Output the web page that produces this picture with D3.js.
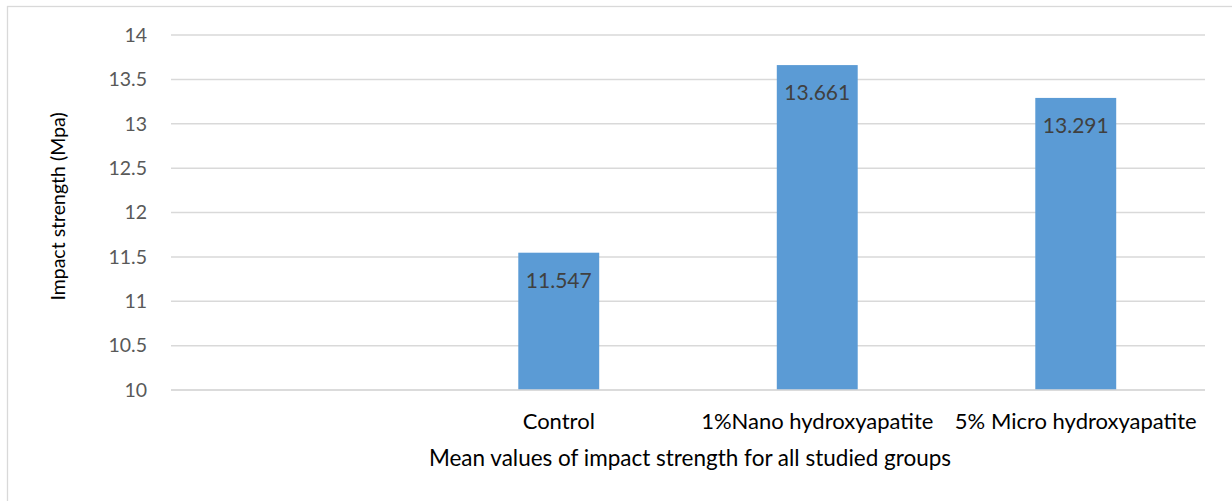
<!DOCTYPE html>
<html>
<head>
<meta charset="utf-8">
<title>Impact strength</title>
<script src="https://d3js.org/d3.v7.min.js"></script>
<style>
  body { margin: 0; background: #fff; }
  text { font-family: Lato, "Open Sans", sans-serif; }
</style>
</head>
<body>
<div id="chart"></div>
<script>
// data
var groups = ["", "Control", "1%Nano hydroxyapatite", "5% Micro hydroxyapatite"];
var values = [null, 11.547, 13.661, 13.291];
var valueLabels = ["", "11.547", "13.661", "13.291"];
var yTicks = [10, 10.5, 11, 11.5, 12, 12.5, 13, 13.5, 14];
var yTickLabels = ["10", "10.5", "11", "11.5", "12", "12.5", "13", "13.5", "14"];

var width = 1232, height = 501;
var margin = {top: 35, right: 27, bottom: 111, left: 171};

var svg = d3.select("#chart").append("svg")
    .attr("width", width)
    .attr("height", height);

// outer chart border (only left and top visible)
svg.append("rect")
    .attr("x", 7.5).attr("y", 6.5)
    .attr("width", 1300).attr("height", 600)
    .attr("fill", "none")
    .attr("stroke", "#d9d9d9")
    .attr("stroke-width", 1.3);

var x = d3.scaleBand()
    .domain(groups.map(function(d, i) { return i; }))
    .range([margin.left, width - margin.right])
    .paddingInner(0.687)
    .paddingOuter(0.3435);

var y = d3.scaleLinear()
    .domain([10, 14])
    .range([height - margin.bottom, margin.top]);

// gridlines
svg.append("g")
    .selectAll("line")
    .data(yTicks)
    .enter()
    .append("line")
        .attr("x1", margin.left)
        .attr("x2", width - margin.right)
        .attr("y1", function(d) { return y(d); })
        .attr("y2", function(d) { return y(d); })
        .attr("stroke", "#d9d9d9")
        .attr("stroke-width", 1.5);

// y axis labels
var yAxis = svg.append("g")
    .attr("transform", "translate(" + (margin.left - 24) + ",0)")
    .call(d3.axisLeft(y).tickValues(yTicks).tickSize(0)
        .tickFormat(function(d, i) { return yTickLabels[i]; }));
yAxis.select(".domain").remove();
yAxis.selectAll("text")
    .attr("x", 0)
    .style("font-size", "19.5px")
    .style("font-family", "Lato, sans-serif")
    .attr("fill", "#595959");

// bars
var rows = groups.map(function(g, i) { return {i: i, g: g, v: values[i], lab: valueLabels[i]}; })
    .filter(function(d) { return d.v != null; });

svg.append("g")
    .selectAll("rect")
    .data(rows)
    .enter()
    .append("rect")
        .attr("x", function(d) { return x(d.i); })
        .attr("y", function(d) { return y(d.v); })
        .attr("width", x.bandwidth())
        .attr("height", function(d) { return y(10) - y(d.v); })
        .attr("fill", "#5b9bd5");

// value labels inside bar tops
svg.append("g")
    .selectAll("text")
    .data(rows)
    .enter()
    .append("text")
        .attr("x", function(d) { return x(d.i) + x.bandwidth() / 2; })
        .attr("y", function(d) { return y(d.v) + 35; })
        .attr("text-anchor", "middle")
        .style("font-size", "21px")
        .attr("fill", "#404040")
        .text(function(d) { return d.lab; });

// baseline
svg.append("line")
    .attr("x1", margin.left)
    .attr("x2", width - margin.right)
    .attr("y1", y(10))
    .attr("y2", y(10))
    .attr("stroke", "#d9d9d9")
    .attr("stroke-width", 1.5);

// category labels
svg.append("g")
    .selectAll("text")
    .data(groups)
    .enter()
    .append("text")
        .attr("x", function(d, i) { return x(i) + x.bandwidth() / 2; })
        .attr("y", 429)
        .attr("text-anchor", "middle")
        .style("font-size", "22px")
        .attr("fill", "#000")
        .text(function(d) { return d; });

// axis titles
svg.append("text")
    .attr("x", 690)
    .attr("y", 466)
    .attr("text-anchor", "middle")
    .style("font-size", "22.5px")
    .attr("fill", "#000")
    .text("Mean values of impact strength for all studied groups");

svg.append("text")
    .attr("transform", "translate(65," + ((y(10) + y(14)) / 2 - 6) + ") rotate(-90)")
    .attr("text-anchor", "middle")
    .style("font-size", "19.5px")
    .attr("fill", "#000")
    .text("Impact strength (Mpa)");
</script>
</body>
</html>
